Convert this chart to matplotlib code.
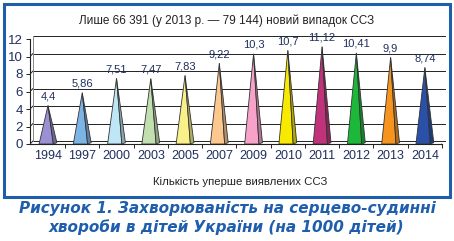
import numpy as np
import matplotlib.pyplot as plt
from matplotlib.colors import to_rgb
from matplotlib.transforms import ScaledTranslation
from matplotlib.patches import Rectangle

# дані
years = ['1994', '1997', '2000', '2003', '2005', '2007',
         '2009', '2010', '2011', '2012', '2013', '2014']
values = [4.4, 5.86, 7.51, 7.47, 7.83, 9.22, 10.3, 10.7, 11.12, 10.41, 9.9, 8.74]
labels = ['4,4', '5,86', '7,51', '7,47', '7,83', '9,22',
          '10,3', '10,7', '11,12', '10,41', '9,9', '8,74']
colors = ['#9a90d2', '#7db4e6', '#bfe6f5', '#c2dfb0', '#f9f08a', '#fcc88e',
          '#f7a3c9', '#f7ea00', '#c0327a', '#1cb83a', '#f7941d', '#2a50a8']
yticks = [0, 2, 4, 6, 8, 10, 12]

title = 'Лише 66 391 (у 2013 р. — 79 144) новий випадок ССЗ'
xlabel = 'Кількість уперше виявлених ССЗ'
caption1 = 'Рисунок 1. Захворюваність на серцево-судинні'
caption2 = 'хвороби в дітей України (на 1000 дітей)'

plt.rcParams['font.family'] = ['Liberation Sans', 'DejaVu Sans']
W, H = 454, 241
text_c = '#1f2f5f'
blue = '#1e5ead'
line_c = '#222222'

fig = plt.figure(figsize=(W / 100, H / 100), dpi=100)

# рамка
fig.patches.append(Rectangle((4 / W, 1 - 197 / H), 446 / W, 193 / H,
                             transform=fig.transFigure, fill=False,
                             edgecolor=blue, linewidth=2.2))

ax = fig.add_axes([30 / W, 1 - 144 / H, 412 / W, 105 / H])
x0, x1 = -0.525, 11.5
ax.set_xlim(x0, x1)
ax.set_ylim(0, 12)
for s in ax.spines.values():
    s.set_visible(False)
ax.patch.set_alpha(0)

# 3D: задня стінка зсунута на 3 пікселі вправо і вгору
depth = ax.transData + ScaledTranslation(0.03, 0.03, fig.dpi_scale_trans)
for t in yticks:
    ax.plot([x0, x1], [t, t], color=line_c, lw=0.7, transform=depth, clip_on=False)
    a = ax.transData.transform((x0, t))
    ax.add_line(plt.Line2D([a[0], a[0] + 3], [a[1], a[1] + 3], transform=None,
                           color=line_c, lw=0.7))
a = ax.transData.transform((x1, 0))
ax.add_line(plt.Line2D([a[0], a[0] + 3], [a[1], a[1] + 3], transform=None,
                       color=line_c, lw=0.7))
ax.plot([x0, x0], [0, 12], color='#888888', lw=0.7, transform=depth, clip_on=False)
ax.plot([x0, x0], [0, 12], color=line_c, lw=0.8, clip_on=False)
ax.plot([x0, x1], [0, 0], color=line_c, lw=0.8, clip_on=False)

# конуси
w = 0.26
for i, (v, c) in enumerate(zip(values, colors)):
    dark = tuple(np.array(to_rgb(c)) * 0.72)
    ax.fill([i - w, i + 0.6 * w, i], [0, 0, v], color=c,
            edgecolor='#333333', linewidth=0.6, zorder=3)
    ax.fill([i + 0.6 * w, i + w, i], [0, 0.15, v], color=dark,
            edgecolor='#333333', linewidth=0.6, zorder=3)
    ax.annotate(labels[i], (i, v), xytext=(0, 3), textcoords='offset points',
                ha='center', va='bottom', fontsize=8, color=text_c)

ax.set_yticks(yticks)
ax.set_yticklabels([str(t) for t in yticks], fontsize=9.5, color=text_c)
ax.tick_params(axis='y', length=3, width=0.7, color=line_c, pad=2)
ax.set_xticks(range(len(years)))
ax.set_xticklabels(years, fontsize=9, color=text_c)
ax.tick_params(axis='x', length=0, pad=4)
ax.set_xticks(np.arange(len(years)) + 0.5, minor=True)
ax.tick_params(axis='x', which='minor', length=3, width=0.7, color=line_c)

fig.text(227 / W, 1 - 21 / H, title, ha='center', va='center',
         fontsize=8.5, color=line_c)
fig.text(240 / W, 1 - 182 / H, xlabel, ha='center', va='center',
         fontsize=8.2, color=line_c)
cap = dict(ha='center', va='center', fontsize=11, color=blue, weight='bold',
           style='italic', family=['DejaVu Sans'])
fig.text(227 / W, 1 - 209 / H, caption1, **cap)
fig.text(226 / W, 1 - 227 / H, caption2, **cap)

fig.savefig('out.png', dpi=100)
